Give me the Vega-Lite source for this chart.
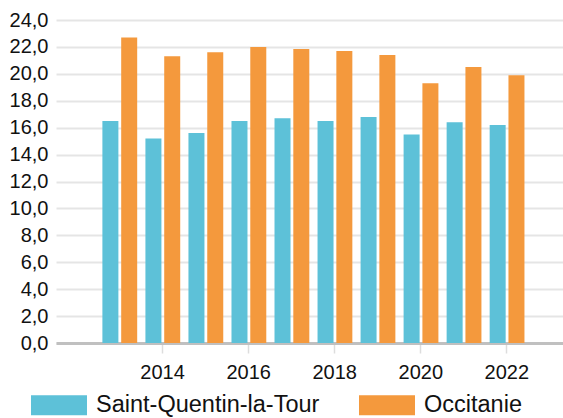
{
  "$schema": "https://vega.github.io/schema/vega-lite/v6.json",
  "autosize": {"type": "none"},
  "padding": {"left": 56, "top": 20, "right": 0, "bottom": 75},
  "width": 507,
  "height": 323,
  "background": "white",
  "config": {
    "view": {"stroke": null},
    "font": "Liberation Sans"
  },
  "data": {
    "values": [
      {"year": 2013, "series": "Saint-Quentin-la-Tour", "value": 16.5},
      {"year": 2014, "series": "Saint-Quentin-la-Tour", "value": 15.2},
      {"year": 2015, "series": "Saint-Quentin-la-Tour", "value": 15.6},
      {"year": 2016, "series": "Saint-Quentin-la-Tour", "value": 16.5},
      {"year": 2017, "series": "Saint-Quentin-la-Tour", "value": 16.7},
      {"year": 2018, "series": "Saint-Quentin-la-Tour", "value": 16.5},
      {"year": 2019, "series": "Saint-Quentin-la-Tour", "value": 16.8},
      {"year": 2020, "series": "Saint-Quentin-la-Tour", "value": 15.5},
      {"year": 2021, "series": "Saint-Quentin-la-Tour", "value": 16.4},
      {"year": 2022, "series": "Saint-Quentin-la-Tour", "value": 16.2},
      {"year": 2013, "series": "Occitanie", "value": 22.7},
      {"year": 2014, "series": "Occitanie", "value": 21.3},
      {"year": 2015, "series": "Occitanie", "value": 21.6},
      {"year": 2016, "series": "Occitanie", "value": 22.0},
      {"year": 2017, "series": "Occitanie", "value": 21.85},
      {"year": 2018, "series": "Occitanie", "value": 21.7},
      {"year": 2019, "series": "Occitanie", "value": 21.4},
      {"year": 2020, "series": "Occitanie", "value": 19.3},
      {"year": 2021, "series": "Occitanie", "value": 20.5},
      {"year": 2022, "series": "Occitanie", "value": 19.9}
    ]
  },
  "encoding": {
    "x": {
      "field": "year",
      "type": "quantitative",
      "scale": {"domain": [2011.65, 2023.2], "nice": false, "zero": false},
      "axis": {
        "title": null,
        "values": [2014, 2016, 2018, 2020, 2022],
        "format": "d",
        "grid": false,
        "domain": true,
        "domainColor": "#c0c0c0",
        "domainWidth": 3,
        "ticks": true,
        "tickColor": "#dddddd",
        "tickWidth": 1.5,
        "tickSize": 10,
        "labelFontSize": 20,
        "labelColor": "#111111",
        "labelPadding": 9,
        "labelFont": "Liberation Sans"
      }
    },
    "y": {
      "field": "value",
      "type": "quantitative",
      "scale": {"domain": [0, 24], "nice": false},
      "axis": {
        "title": null,
        "values": [0, 2, 4, 6, 8, 10, 12, 14, 16, 18, 20, 22, 24],
        "labelExpr": "replace(format(datum.value, '.1f'), '.', ',')",
        "domain": false,
        "ticks": false,
        "grid": true,
        "gridColor": "#e5e5e5",
        "gridWidth": 1.8,
        "labelFontSize": 20,
        "labelColor": "#111111",
        "labelPadding": 8,
        "labelFont": "Liberation Sans"
      }
    },
    "color": {
      "field": "series",
      "type": "nominal",
      "scale": {
        "domain": ["Saint-Quentin-la-Tour", "Occitanie"],
        "range": ["#5dc1d8", "#f4993d"]
      },
      "legend": {
        "title": null,
        "orient": "none",
        "direction": "horizontal",
        "legendX": -25,
        "legendY": 357,
        "symbolType": "M-1,-0.357H1V0.357H-1Z",
        "symbolSize": 3136,
        "symbolStrokeWidth": 0,
        "symbolOpacity": 1,
        "labelFontSize": 23.5,
        "labelColor": "#111111",
        "labelFont": "Liberation Sans",
        "labelOffset": 9,
        "columnPadding": 39,
        "labelLimit": 400
      }
    }
  },
  "layer": [
    {
      "transform": [{"filter": "datum.series === 'Saint-Quentin-la-Tour'"}],
      "mark": {"type": "bar", "width": 16, "xOffset": -8.7}
    },
    {
      "transform": [{"filter": "datum.series === 'Occitanie'"}],
      "mark": {"type": "bar", "width": 16, "xOffset": 10.1}
    }
  ]
}
